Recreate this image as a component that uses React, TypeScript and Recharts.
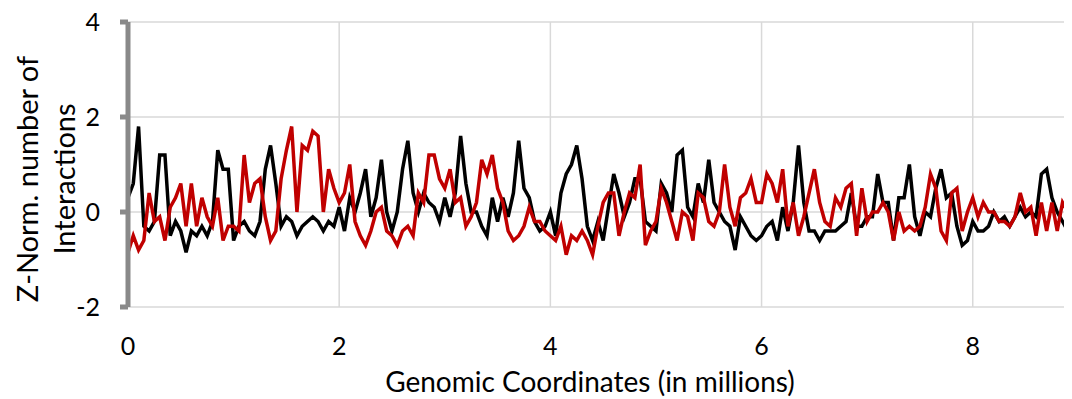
import { CartesianGrid, Line, LineChart, XAxis, YAxis } from "recharts";

const STEP = 0.05;
const X_TICKS = [0, 2, 4, 6, 8];
const Y_TICKS = [-2, 0, 2, 4];

const blackSeries = [
  0.3, 0.6, 1.8, -0.3, -0.4, -0.2, 1.2, 1.2, -0.5, -0.2,
  -0.4, -0.85, -0.4, -0.5, -0.3, -0.5, -0.2, 1.3, 0.9, 0.9,
  -0.6, -0.3, -0.2, -0.4, -0.5, -0.2, 0.9, 1.4, 0.6, -0.3,
  -0.1, -0.2, -0.5, -0.3, -0.2, -0.1, -0.2, -0.4, -0.2, -0.3,
  0.1, -0.4, 0.3, 0.0, 0.4, 0.9, -0.1, 0.3, 1.1, 0.0,
  -0.4, 0.0, 0.9, 1.5, 0.4, 0.0, 0.4, 0.2, 0.1, -0.2,
  0.3, -0.1, 0.4, 1.6, 0.6, 0.0, 0.0, -0.3, -0.5, 0.3,
  -0.2, 0.3, -0.1, 0.4, 1.5, 0.5, 0.3, -0.2, -0.4, -0.3,
  0.0, -0.5, 0.4, 0.8, 1.0, 1.4, 0.7, -0.3, -0.6, -0.2,
  -0.6, 0.1, 0.8, 0.4, -0.1, 0.2, 0.7, 0.7, -0.2, -0.3,
  -0.4, 0.6, 0.4, 0.0, 1.2, 1.3, 0.1, -0.1, 0.6, 0.2,
  1.1, 0.2, 0.0, -0.2, -0.3, -0.8, -0.1, -0.3, -0.5, -0.6,
  -0.5, -0.3, -0.2, -0.6, 0.1, -0.4, 0.2, 1.4, 0.2, -0.4,
  -0.4, -0.6, -0.4, -0.4, -0.4, -0.3, -0.2, 0.4, -0.3, -0.3,
  -0.1, -0.1, 0.8, 0.2, 0.2, -0.6, 0.3, 0.3, 1.0, -0.1,
  -0.5, 0.0, -0.1, 0.5, 0.9, 0.3, 0.4, -0.3, -0.7, -0.6,
  -0.2, -0.4, -0.4, -0.3, 0.0, -0.2, -0.1, -0.3, -0.1, 0.1,
  -0.1, 0.0, -0.1, 0.8, 0.9, 0.3, 0.0, -0.2, -0.4, -0.3,
];

const redSeries = [
  -0.85, -0.5, -0.8, -0.6, 0.4, -0.2, -0.1, -0.6, 0.1, 0.3,
  0.6, -0.3, 0.6, -0.3, 0.3, -0.1, -0.3, 0.3, -0.6, -0.3,
  -0.3, -0.4, 1.2, 0.2, 0.6, 0.7, -0.1, -0.6, -0.4, 0.7,
  1.3, 1.8, 0.0, 1.4, 1.3, 1.7, 1.6, 0.0, 0.9, 0.5,
  0.2, 0.4, 1.0, -0.2, -0.5, -0.7, -0.4, 0.0, 0.1, -0.4,
  -0.5, -0.7, -0.4, -0.3, -0.5, 0.4, 0.2, 1.2, 1.2, 0.7,
  0.5, 0.9, 0.2, 0.3, -0.3, -0.1, 0.2, 1.1, 0.8, 1.2,
  0.5, 0.2, -0.4, -0.6, -0.5, -0.3, 0.1, -0.2, -0.2, -0.4,
  -0.5, -0.6, -0.3, -0.9, -0.5, -0.6, -0.4, -0.6, -0.9, -0.3,
  0.2, 0.4, 0.4, -0.5, 0.0, 0.4, 0.3, 1.0, -0.7, -0.4,
  -0.2, 0.5, 0.2, -0.2, -0.6, 0.0, -0.1, -0.6, 0.4, 0.3,
  -0.2, -0.3, 0.0, 1.0, 0.1, -0.3, 0.3, 0.4, 0.7, 0.2,
  0.2, 0.8, 0.6, 0.2, 0.9, -0.3, 0.2, -0.5, -0.1, 0.4,
  0.9, 0.2, -0.2, -0.3, 0.3, 0.1, 0.5, 0.6, -0.5, 0.5,
  -0.2, 0.0, 0.0, 0.2, 0.0, -0.6, 0.0, -0.4, -0.3, -0.4,
  -0.3, 0.1, 0.8, 0.5, -0.4, -0.6, 0.4, 0.5, -0.4, 0.0,
  0.3, -0.1, 0.2, 0.0, 0.0, -0.2, -0.2, -0.3, -0.1, 0.4,
  0.0, 0.1, -0.5, 0.2, -0.4, 0.2, -0.4, 0.2, 0.0, 0.0,
];

const rows = blackSeries.map((b, i) => ({
  x: +(i * STEP).toFixed(2),
  black: b,
  red: redSeries[i],
}));

const FONT = "Lato, 'Open Sans', sans-serif";
const AXIS_GRAY = "#898989";

function YTitle() {
  return (
    <g fill="#000" fontSize={29} fontFamily={FONT}>
      <text x={18} y={171} textAnchor="middle" dominantBaseline="central" transform="rotate(-90, 18, 171)">
        Z-Norm. number of
      </text>
      <text x={55} y={171} textAnchor="middle" dominantBaseline="central" transform="rotate(-90, 55, 171)">
        Interactions
      </text>
    </g>
  );
}

function XTitle() {
  return (
    <text x={582} y={384} textAnchor="middle" fill="#000" fontSize={28} fontFamily={FONT}>
      Genomic Coordinates (in millions)
    </text>
  );
}

export default function App() {
  return (
    <LineChart
      width={1064}
      height={390}
      data={rows}
      margin={{ top: 14, right: 0, bottom: 31, left: 0 }}
      style={{ fontFamily: FONT }}
    >
      <CartesianGrid stroke="#d9d9d9" strokeWidth={1.5} />
      <XAxis
        type="number"
        dataKey="x"
        domain={[0, 8.94]}
        ticks={X_TICKS}
        allowDataOverflow
        axisLine={false}
        tickLine={false}
        tickSize={0}
        tickMargin={30}
        height={60}
        tick={{ fill: "#000", fontSize: 25 }}
        label={<XTitle />}
      />
      <YAxis
        type="number"
        domain={[-2, 4]}
        ticks={Y_TICKS}
        allowDataOverflow
        width={120}
        axisLine={{ stroke: AXIS_GRAY, strokeWidth: 5 }}
        tickLine={{ stroke: AXIS_GRAY, strokeWidth: 5 }}
        tickSize={8}
        tickMargin={20}
        tick={{ fill: "#000", fontSize: 25 }}
        label={<YTitle />}
      />
      <Line dataKey="black" stroke="#000000" strokeWidth={3.5} dot={false} isAnimationActive={false} />
      <Line dataKey="red" stroke="#c00000" strokeWidth={3.5} dot={false} isAnimationActive={false} />
    </LineChart>
  );
}
